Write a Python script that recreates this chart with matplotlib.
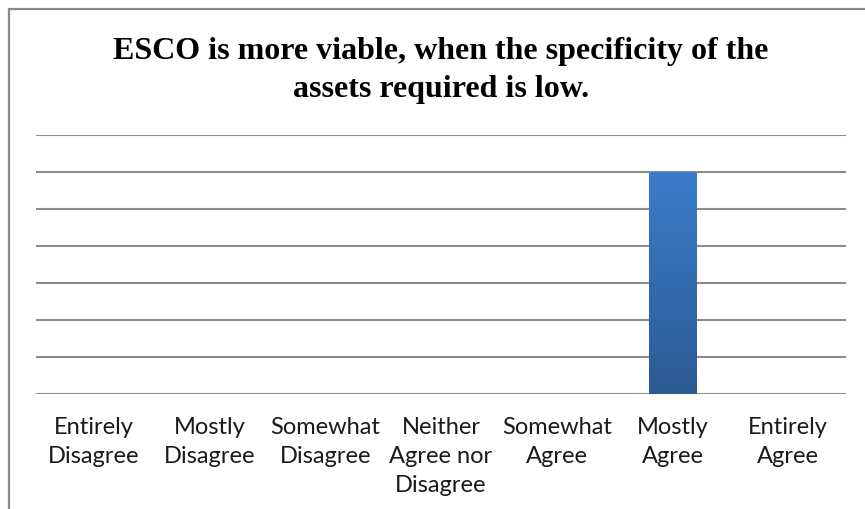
import numpy as np
import matplotlib
matplotlib.use("Agg")
import matplotlib.pyplot as plt
from matplotlib.patches import Rectangle
from matplotlib.colors import LinearSegmentedColormap

# Survey responses per agreement level
categories = [
    "Entirely\nDisagree",
    "Mostly\nDisagree",
    "Somewhat\nDisagree",
    "Neither\nAgree nor\nDisagree",
    "Somewhat\nAgree",
    "Mostly\nAgree",
    "Entirely\nAgree",
]
responses = [0, 0, 0, 0, 0, 6, 0]
title = "ESCO is more viable, when the specificity of the\nassets required is low."

W, H = 865, 510
fig = plt.figure(figsize=(W / 100, H / 100), dpi=100)
fig.patch.set_facecolor("white")

# Chart frame (only left and top edges fall inside the image)
frame = Rectangle((8.5 / W, -0.2), 1.2, (H - 9.5) / H + 0.2,
                  transform=fig.transFigure, fill=False,
                  edgecolor="#8a8a8a", linewidth=1.6)
fig.patches.append(frame)

ax = fig.add_axes([36 / W, 115 / H, 810 / W, 259 / H])
x = np.arange(len(categories))
bars = ax.bar(x, responses, width=0.41, color="#3568ad", zorder=3)

# Vertical blue gradient on each bar
cmap = LinearSegmentedColormap.from_list("bar", ["#2c5a93", "#3b7ccb"])
grad = np.linspace(0, 1, 256).reshape(-1, 1)
for b in bars:
    if b.get_height() <= 0:
        continue
    x0, w, h = b.get_x(), b.get_width(), b.get_height()
    im = ax.imshow(grad, extent=[x0, x0 + w, 0, h], origin="lower",
                   cmap=cmap, aspect="auto", zorder=4)
    im.set_clip_path(b)

ax.set_xlim(-0.5, len(categories) - 0.5)
ax.set_ylim(0, 7)
ax.set_yticks(np.arange(0, 8))
ax.yaxis.grid(True, color="#8c8c8c", linewidth=1.5, zorder=1)
ax.tick_params(axis="y", left=False, labelleft=False)
ax.tick_params(axis="x", length=0, pad=16)
ax.set_xticks(x)
ax.set_xticklabels(categories, fontfamily="Lato", fontsize=17,
                   linespacing=1.45, color="#1a1a1a")
for s in ax.spines.values():
    s.set_visible(False)

fig.text(441 / W, 1 - 97 / H, title, ha="center", va="baseline",
         fontfamily="Liberation Serif", fontweight="bold", fontsize=23,
         linespacing=1.42)

fig.savefig("out.png", dpi=100)
